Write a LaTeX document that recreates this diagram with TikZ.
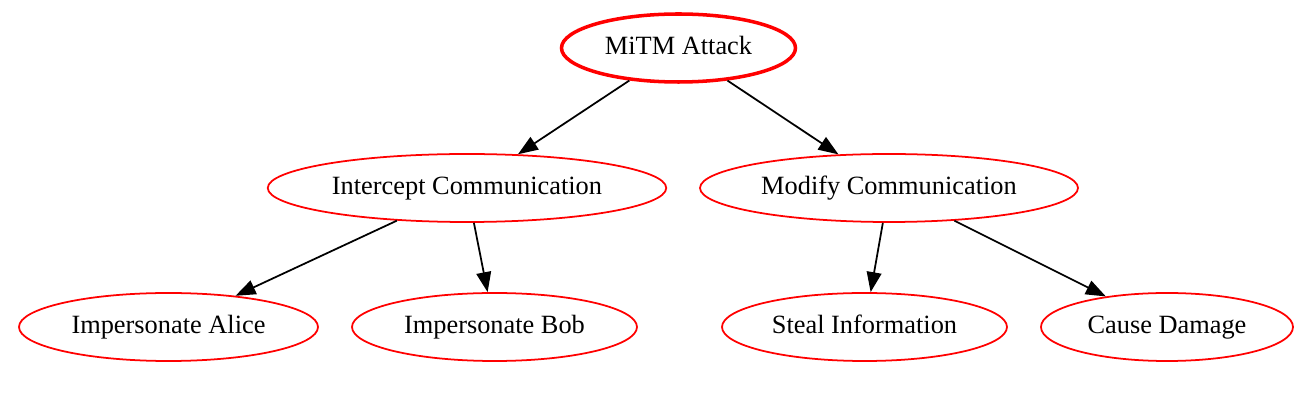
\documentclass[tikz,border=0pt]{standalone}
\usepackage{fontspec}
\setmainfont{Liberation Serif}
\usetikzlibrary{shapes.geometric,arrows.meta}
\colorlet{rdx}{red}
\tikzset{
    goal/.style={ellipse,draw=rdx,line width=1pt,inner sep=0pt,minimum height=1.36cm,text height=0.8em,text depth=0.08em,font=\fontsize{15}{18}\selectfont},
    root/.style={goal,line width=2pt},
    link/.style={line width=1pt,-{Triangle[length=11.4pt,width=8.4pt]}}
}

\begin{document}
\begin{tikzpicture}
        \useasboundingbox (0,0) rectangle (26.2,-8.12);
        \node [root,minimum width=4.68cm] (mitm) at (13.57,-0.96) {MiTM Attack};
        \node [goal,minimum width=7.97cm] (inter) at (9.34,-3.76) {Intercept Communication};
        \node [goal,minimum width=7.56cm] (modify) at (17.78,-3.76) {Modify Communication};
        \node [goal,minimum width=5.98cm] (alice) at (3.37,-6.54) {Impersonate Alice};
        \node [goal,minimum width=5.70cm] (bob) at (9.89,-6.54) {Impersonate Bob};
        \node [goal,minimum width=5.70cm] (steal) at (17.29,-6.54) {Steal Information};
        \node [goal,minimum width=5.04cm] (damage) at (23.34,-6.54) {Cause Damage};
        \foreach \a/\b in {mitm/inter,mitm/modify,inter/alice,inter/bob,modify/steal,modify/damage} {
            \draw [link] (\a) -- (\b);
        }
    \end{tikzpicture}
\end{document}
